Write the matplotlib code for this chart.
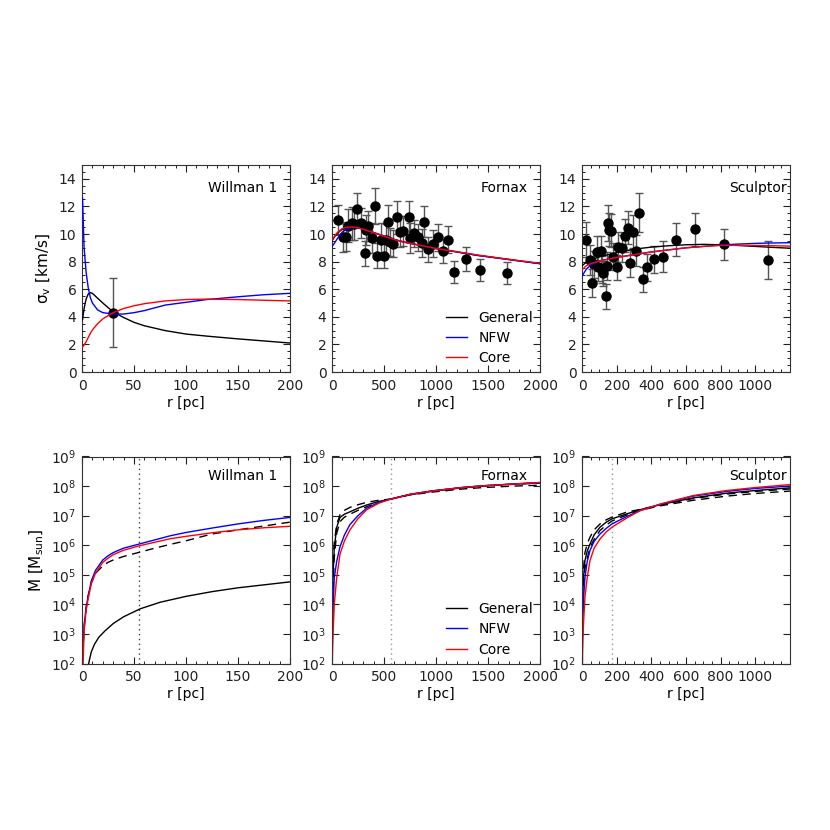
import numpy as np
import matplotlib
matplotlib.use('Agg')
import matplotlib.pyplot as plt
from matplotlib.ticker import MultipleLocator, FixedLocator, LogLocator, LogFormatterMathtext, NullLocator
from matplotlib.lines import Line2D

# ---- velocity dispersion profiles (km/s) ----
# Willman 1
w_r = [0.5, 2, 4, 6, 8, 10, 15, 20, 30, 40, 50, 60, 80, 100, 120, 150, 175, 200]
w_gen = [3.8, 4.6, 5.3, 5.65, 5.75, 5.7, 5.35, 5.0, 4.35, 3.95, 3.6, 3.35, 3.0, 2.75, 2.6, 2.4, 2.25, 2.1]
w_nfw = [12.6, 9.0, 7.2, 6.1, 5.4, 5.0, 4.5, 4.3, 4.2, 4.2, 4.3, 4.45, 4.85, 5.05, 5.25, 5.45, 5.6, 5.7]
w_core = [1.8, 1.95, 2.2, 2.5, 2.8, 3.05, 3.5, 3.85, 4.3, 4.6, 4.8, 4.95, 5.15, 5.25, 5.28, 5.25, 5.2, 5.15]
w_obs_r = [30]
w_obs_v = [4.3]
w_obs_e = [2.5]

# Fornax
f_r = [0, 25, 50, 100, 150, 200, 250, 300, 400, 500, 600, 700, 800, 900, 1000, 1200, 1400, 1600, 1800, 2000]
f_gen = [9.5, 9.8, 10.05, 10.35, 10.5, 10.5, 10.45, 10.35, 10.1, 9.85, 9.6, 9.4, 9.25, 9.1, 8.95, 8.7, 8.45, 8.25, 8.05, 7.85]
f_nfw = [9.1, 9.35, 9.65, 10.15, 10.4, 10.5, 10.45, 10.35, 10.1, 9.85, 9.6, 9.4, 9.25, 9.1, 8.95, 8.7, 8.45, 8.25, 8.05, 7.85]
f_core = [9.55, 9.85, 10.1, 10.4, 10.5, 10.5, 10.45, 10.35, 10.1, 9.85, 9.6, 9.4, 9.25, 9.1, 8.95, 8.72, 8.48, 8.27, 8.07, 7.88]
f_obs_r = [61, 110, 131, 150, 189, 210, 244, 279, 317, 330, 349, 381, 413, 430, 471, 500, 520, 541, 560, 590,
           628, 654, 686, 737, 750, 792, 830, 868, 888, 920, 968, 1016, 1064, 1112, 1173, 1285, 1423, 1680]
f_obs_v = [11.0, 9.8, 9.76, 10.6, 10.77, 10.7, 11.8, 10.8, 8.6, 10.3, 10.58, 9.69, 12.03, 8.43, 9.6, 8.43, 9.6, 10.9, 9.4, 9.3,
           11.2, 10.17, 10.2, 11.2, 9.7, 10.05, 9.76, 9.33, 10.9, 8.89, 9.3, 9.76, 8.77, 9.6, 7.27, 8.19, 7.39, 7.2]
f_obs_e = [1.1, 1.1, 1.0, 1.2, 1.2, 1.1, 1.2, 1.1, 0.9, 1.1, 1.1, 1.1, 1.3, 0.9, 1.2, 0.9, 1.1, 1.2, 1.0, 1.0,
           1.2, 1.1, 1.1, 1.2, 1.1, 1.0, 1.0, 1.0, 1.1, 0.9, 1.0, 1.0, 0.9, 1.0, 0.8, 0.9, 0.8, 0.8]

# Sculptor
s_r = [0, 25, 50, 100, 200, 300, 400, 500, 600, 700, 800, 900, 1000, 1100, 1200]
s_gen = [7.7, 7.95, 8.1, 8.35, 8.65, 8.9, 9.05, 9.15, 9.22, 9.25, 9.22, 9.17, 9.1, 9.03, 8.97]
s_nfw = [6.95, 7.45, 7.75, 8.05, 8.3, 8.5, 8.7, 8.85, 9.0, 9.1, 9.2, 9.27, 9.32, 9.35, 9.37]
s_core = [7.4, 7.7, 7.85, 8.05, 8.3, 8.5, 8.7, 8.85, 9.0, 9.1, 9.17, 9.18, 9.17, 9.15, 9.12]
s_obs_r = [23, 46, 56, 70, 85, 94, 110, 113, 119, 137, 142, 148, 158, 166, 181, 200, 210, 229, 248, 267,
           277, 292, 312, 329, 350, 377, 417, 469, 542, 654, 819, 1073]
s_obs_v = [9.6, 8.1, 6.43, 7.8, 8.72, 7.63, 8.75, 7.44, 7.15, 5.5, 7.7, 10.82, 10.3, 10.25, 8.36, 7.6, 9.08, 8.96, 9.86, 10.46,
           7.87, 10.17, 8.8, 11.55, 6.72, 7.58, 8.16, 8.36, 9.6, 10.34, 9.25, 8.12]
s_obs_e = [1.3, 1.1, 1.0, 1.0, 1.1, 1.0, 1.1, 1.0, 0.9, 0.9, 1.0, 1.3, 1.2, 1.2, 1.0, 0.9, 1.1, 1.0, 1.2, 1.2,
           1.0, 1.2, 1.1, 1.4, 0.9, 1.0, 1.0, 1.1, 1.2, 1.2, 1.1, 1.4]

# ---- enclosed mass profiles, log10(M/Msun) ----
wm_r = [1, 2, 4, 6, 9, 13, 20, 25, 30, 40, 55, 70, 85, 100, 125, 150, 175, 200]
wm_nfw = [2.7, 3.3, 3.9, 4.3, 4.8, 5.15, 5.5, 5.64, 5.75, 5.9, 6.04, 6.18, 6.32, 6.43, 6.58, 6.72, 6.84, 6.94]
wm_core = [1.9, 3.1, 3.8, 4.2, 4.7, 5.05, 5.42, 5.56, 5.68, 5.83, 5.98, 6.1, 6.22, 6.3, 6.42, 6.52, 6.59, 6.64]
wm_dash = [2.3, 3.2, 3.9, 4.3, 4.75, 5.05, 5.3, 5.42, 5.5, 5.62, 5.76, 5.9, 6.03, 6.15, 6.38, 6.52, 6.65, 6.78]
wm_gen_r = [6, 7, 9, 12, 16, 22, 30, 40, 56, 75, 100, 125, 150, 175, 200]
wm_gen = [1.9, 2.1, 2.4, 2.65, 2.88, 3.1, 3.35, 3.58, 3.85, 4.07, 4.27, 4.43, 4.56, 4.66, 4.76]
w_rhalf = 55

fm_r = [2, 10, 22, 45, 77, 120, 173, 250, 333, 450, 564, 750, 974, 1250, 1455, 1750, 2000]
fm_core = [1.9, 3.0, 4.0, 4.9, 5.7, 6.15, 6.52, 6.9, 7.2, 7.42, 7.56, 7.72, 7.84, 7.95, 8.01, 8.07, 8.12]
fm_nfw = [2.5, 3.9, 4.9, 5.45, 5.95, 6.35, 6.7, 7.0, 7.25, 7.45, 7.56, 7.72, 7.84, 7.95, 8.01, 8.07, 8.11]
fm_gen = [3.0, 5.0, 5.9, 6.6, 6.94, 7.05, 7.13, 7.25, 7.36, 7.48, 7.56, 7.72, 7.84, 7.95, 8.01, 8.07, 8.12]
fm_hi = [3.5, 5.4, 6.1, 6.7, 7.03, 7.18, 7.28, 7.37, 7.45, 7.52, 7.56, 7.71, 7.83, 7.94, 8.0, 8.06, 8.1]
fm_lo = [2.6, 4.6, 5.6, 6.4, 6.8, 6.95, 7.05, 7.18, 7.3, 7.45, 7.56, 7.7, 7.8, 7.9, 7.95, 8.0, 8.03]
f_rhalf = 564

sm_r = [2, 5, 10, 17, 30, 46, 70, 104, 140, 173, 258, 335, 450, 642, 835, 1000, 1200]
sm_core = [1.9, 2.8, 3.5, 4.24, 4.9, 5.48, 5.9, 6.21, 6.45, 6.61, 6.92, 7.17, 7.39, 7.68, 7.85, 7.95, 8.05]
sm_nfw = [2.5, 3.6, 4.3, 4.9, 5.45, 5.82, 6.13, 6.38, 6.57, 6.72, 6.97, 7.17, 7.38, 7.66, 7.82, 7.92, 8.0]
sm_gen = [3.5, 4.5, 5.0, 5.48, 5.8, 6.04, 6.35, 6.61, 6.78, 6.89, 7.06, 7.2, 7.37, 7.6, 7.76, 7.85, 7.94]
sm_hi = [3.8, 4.8, 5.3, 5.75, 6.05, 6.27, 6.52, 6.72, 6.86, 6.95, 7.12, 7.21, 7.36, 7.58, 7.73, 7.82, 7.9]
sm_lo = [3.2, 4.2, 4.7, 5.2, 5.55, 5.93, 6.2, 6.5, 6.68, 6.82, 7.02, 7.18, 7.33, 7.52, 7.66, 7.75, 7.83]
s_rhalf = 173

names = ['Willman 1', 'Fornax', 'Sculptor']
xlims = [200, 2000, 1200]
xmajor = [[0, 50, 100, 150, 200], [0, 500, 1000, 1500, 2000], [0, 200, 400, 600, 800, 1000]]
xminor = [10, 100, 50]

plt.rcParams['font.family'] = 'DejaVu Sans'
plt.rcParams['font.size'] = 10
plt.rcParams['mathtext.default'] = 'regular'

fig = plt.figure(figsize=(8.3, 8.3), dpi=100)
lefts = [82 / 830, 332 / 830, 582 / 830]
w = 208 / 830
h = 207 / 830
top_b = (830 - 372) / 830
bot_b = (830 - 663.5) / 830


def style_axes(ax, i):
    ax.set_xlim(0, xlims[i])
    ax.xaxis.set_major_locator(FixedLocator(xmajor[i]))
    ax.xaxis.set_minor_locator(MultipleLocator(xminor[i]))
    ax.tick_params(which='both', direction='in', top=True, right=True, colors='#222222')
    ax.tick_params(which='major', length=5, width=0.8, pad=5)
    ax.tick_params(which='minor', length=2.5, width=0.7)
    ax.tick_params(axis='y', which='major', pad=4)
    for s in ax.spines.values():
        s.set_linewidth(0.8)
        s.set_color('#333333')
    ax.set_xlabel('r [pc]', labelpad=2)


gen_curves = [w_gen, f_gen, s_gen]
nfw_curves = [w_nfw, f_nfw, s_nfw]
core_curves = [w_core, f_core, s_core]
r_grids = [w_r, f_r, s_r]
obs = [(w_obs_r, w_obs_v, w_obs_e), (f_obs_r, f_obs_v, f_obs_e), (s_obs_r, s_obs_v, s_obs_e)]

# top row: dispersion
for i in range(3):
    ax = fig.add_axes([lefts[i], top_b, w, h])
    style_axes(ax, i)
    ax.set_ylim(0, 15)
    ax.yaxis.set_major_locator(FixedLocator(range(0, 15, 2)))
    ax.yaxis.set_minor_locator(MultipleLocator(0.5))
    ro, vo, eo = obs[i]
    ax.errorbar(ro, vo, yerr=eo, fmt='o', color='black', ms=6.5, ecolor='#555555',
                elinewidth=1, capsize=3, capthick=1, zorder=2)
    ax.plot(r_grids[i], gen_curves[i], color='black', lw=1, zorder=3)
    ax.plot(r_grids[i], nfw_curves[i], color='blue', lw=1, zorder=3)
    ax.plot(r_grids[i], core_curves[i], color='red', lw=1, zorder=3)
    ax.text(0.985 if i == 2 else 0.94, 0.89, names[i], transform=ax.transAxes, ha='right', va='center')
    if i == 0:
        ax.set_ylabel(r'$\sigma_v$ [km/s]', fontsize=11)
    if i == 1:
        hs = [Line2D([], [], color=c, lw=1) for c in ['black', 'blue', 'red']]
        ax.legend(hs, ['General', 'NFW', 'Core'], loc='lower right', frameon=False,
                  handlelength=1.5, handletextpad=0.8, borderaxespad=0.1, labelspacing=0.45)

# bottom row: mass
mass_sets = [
    (wm_r, wm_nfw, wm_core, wm_dash, None, w_rhalf),
    (fm_r, fm_nfw, fm_core, fm_hi, fm_lo, f_rhalf),
    (sm_r, sm_nfw, sm_core, sm_hi, sm_lo, s_rhalf),
]
gen_mass = [(wm_gen_r, wm_gen), (fm_r, fm_gen), (sm_r, sm_gen)]

for i in range(3):
    ax = fig.add_axes([lefts[i], bot_b, w, h])
    style_axes(ax, i)
    ax.set_yscale('log')
    ax.set_ylim(1e2, 1e9)
    ax.yaxis.set_major_locator(LogLocator(base=10, numticks=20))
    ax.yaxis.set_major_formatter(LogFormatterMathtext())
    ax.yaxis.set_minor_locator(NullLocator())
    rr, nfw, core, hi, lo, rh = mass_sets[i]
    ax.axvline(rh, color='#444444' if i == 0 else '#999999', ls=(0, (1, 2.5)), lw=1)
    ax.plot(rr, 10 ** np.array(hi), color='black', ls=(0, (6, 4)), lw=1)
    if lo is not None:
        ax.plot(rr, 10 ** np.array(lo), color='black', ls=(0, (6, 4)), lw=1)
    gr, gm = gen_mass[i]
    ax.plot(gr, 10 ** np.array(gm), color='black', lw=1)
    ax.plot(rr, 10 ** np.array(nfw), color='blue', lw=1)
    ax.plot(rr, 10 ** np.array(core), color='red', lw=1)
    ax.text(0.985 if i == 2 else 0.94, 0.905, names[i], transform=ax.transAxes, ha='right', va='center')
    if i == 0:
        ax.set_ylabel(r'M [M$_{sun}$]', fontsize=11)
    if i == 1:
        hs = [Line2D([], [], color=c, lw=1) for c in ['black', 'blue', 'red']]
        ax.legend(hs, ['General', 'NFW', 'Core'], loc='lower right', frameon=False,
                  handlelength=1.5, handletextpad=0.8, borderaxespad=0.1, labelspacing=0.45)

plt.savefig('out.png', dpi=100)
